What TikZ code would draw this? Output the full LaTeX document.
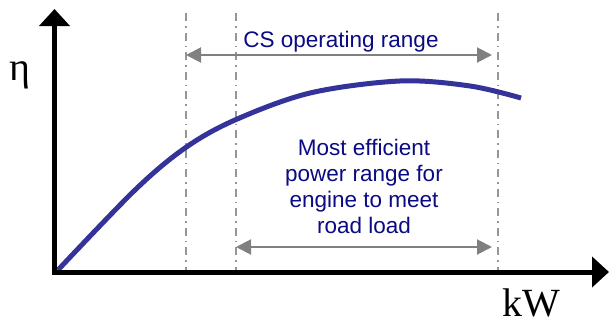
\documentclass[tikz,border=0pt]{standalone}
\usepackage{fontspec}
\setmainfont{Liberation Serif}
\newfontfamily\labelfont{Liberation Sans}
\usetikzlibrary{arrows.meta}
\definecolor{curveblue}{RGB}{51,51,153}
\definecolor{textnavy}{RGB}{10,10,130}
\definecolor{guidegray}{RGB}{150,150,150}
\definecolor{spangray}{RGB}{128,128,128}
\tikzset{
  axisline/.style={line width=5pt,-{Triangle[length=17pt,width=30pt]}},
  guideline/.style={guidegray,line width=1.5pt,dash pattern=on 8pt off 5pt on 1.5pt off 5pt},
  spanarrow/.style={spangray,line width=2pt,{Triangle[length=15pt,width=15pt]}-{Triangle[length=15pt,width=15pt]}},
  rangelabel/.style={textnavy,font=\labelfont\fontsize{22.5}{26}\selectfont,inner sep=0pt,align=center},
  axislabel/.style={font=\fontsize{40}{44}\selectfont,inner sep=0pt}
}
\begin{document}
\begin{tikzpicture}[x=1pt,y=-1pt]
\useasboundingbox (0,0) rectangle (611,324);

% guide lines bounding the operating ranges
\coordinate (g1t) at (186,13); \coordinate (g1b) at (186,272);
\coordinate (g2t) at (236,13); \coordinate (g2b) at (236,272);
\coordinate (g3t) at (498,13); \coordinate (g3b) at (498,272);
\draw[guideline] (g1t) -- (g1b);
\draw[guideline] (g2t) -- (g2b);
\draw[guideline] (g3t) -- (g3b);

% efficiency curve
\draw[curveblue,line width=5pt,line cap=butt] plot[smooth,tension=0.55] coordinates {
  (58,270) (135,190) (185,148) (235,120) (310,93) (400,81) (470,86) (521,98)};

% axes
\coordinate (corner) at (52,272);
\coordinate (ybase) at (54.5,274.5);
\coordinate (ytip) at (54.5,9);
\coordinate (xtip) at (609,272);
\draw[axisline] (ybase) -- (ytip);
\draw[axisline] (corner) -- (xtip);

% range spans
\coordinate (csl) at (186,55); \coordinate (csr) at (492,55);
\coordinate (mel) at (236,247); \coordinate (mer) at (492,247);
\draw[spanarrow] (csl) -- (csr);
\draw[spanarrow] (mel) -- (mer);

% labels
\node[rangelabel,anchor=base] (cslabel) at (341,47) {CS operating range};
\node[rangelabel,anchor=north] (melabel) at (364,138.5)
  {Most efficient\\power range for\\engine to meet\\road load};
\node[axislabel,anchor=base] (eta) at (20,80) {η};
\node[axislabel,anchor=base] (kw) at (531,316) {kW};
\end{tikzpicture}
\end{document}
